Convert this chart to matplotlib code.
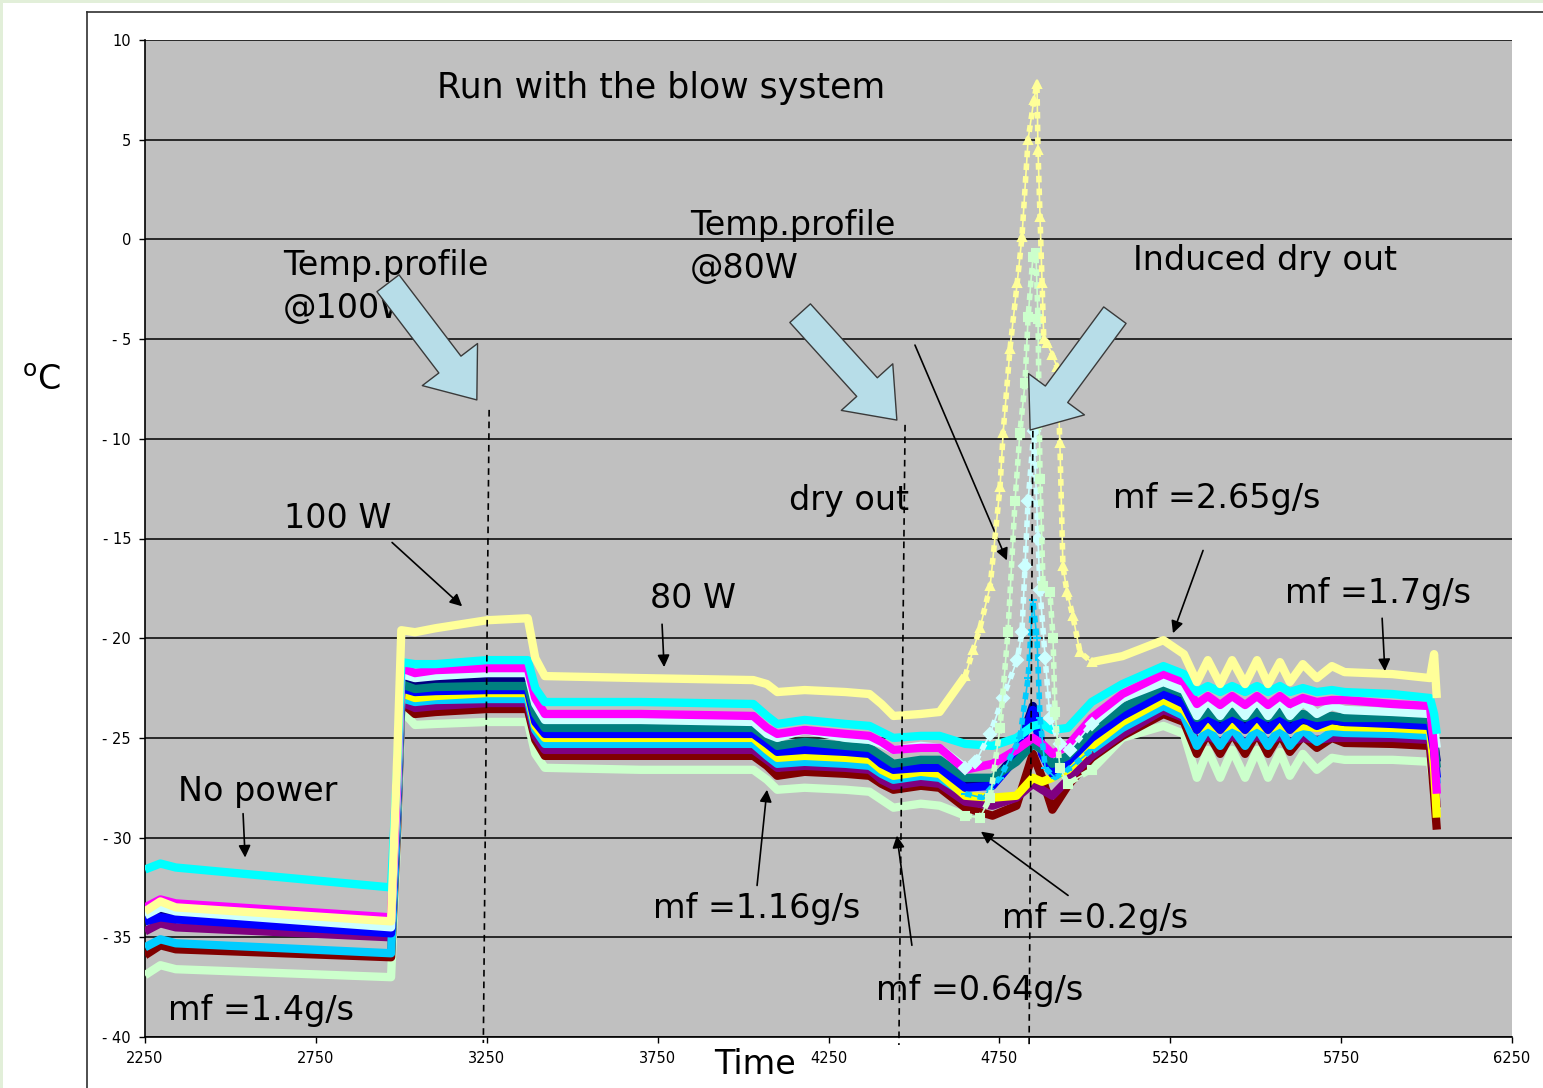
import numpy as np
import matplotlib
matplotlib.use("Agg")
import matplotlib.pyplot as plt
from matplotlib.lines import Line2D
from matplotlib.patches import Rectangle


# shared time base of the plateau traces
t = [2250, 2295, 2340, 2970, 2988, 3000, 3040, 3100, 3250, 3370,
     3392, 3420, 3700, 4030, 4070, 4100, 4180, 4300, 4370, 4405,
     4440, 4520, 4575, 4650, 4730, 4800, 4848, 4875, 4905, 4950,
     5020, 5110, 5230, 5290, 5328, 5360, 5396, 5431, 5469, 5504,
     5536, 5571, 5600, 5638, 5679, 5723, 5760, 5900, 6010, 6022,
     6030]

# temperatures (oC); None = drawn by the spike trace instead
lt_yellow = [-33.7, -33.2, -33.5, -34.2,
             -26.0, -19.6, -19.7, -19.5, -19.1, -19.0,
             -21.0, -21.9, -22.0, -22.1,
             -22.3, -22.7, -22.6, -22.7, -22.8,
             -23.3, -23.9, -23.8, -23.7, -21.9,
             None, None, None, None, None, None, -21.2,
             -20.9, -20.1, -20.8,
             -22.2, -21.1, -22.3, -21.1, -22.3, -21.1, -22.3, -21.2, -22.2, -21.3, -22.0, -21.4,
             -21.7, -21.8, -22.0, -20.8, -23.0]
cyan = [-31.6, -31.3, -31.5, -32.5,
        -26.5, -21.2, -21.3, -21.3, -21.1, -21.1,
        -22.5, -23.2, -23.2, -23.3,
        -23.9, -24.3, -24.1, -24.3, -24.4,
        -24.7, -25.0, -24.9, -24.9, -25.3,
        -25.4, -25.0, -24.4, -24.3, -24.6, -24.5, -23.2,
        -22.3, -21.4, -21.8,
        -22.7, -22.4, -22.7, -22.4, -22.7, -22.4, -22.7, -22.4, -22.7, -22.5, -22.7, -22.6,
        -22.7, -22.8, -23.0, -23.8, -24.8]
magenta = [-33.5, -33.1, -33.3, -34.0,
           -27.0, -21.5, -21.75, -21.6, -21.5, -21.5,
           -23.0, -23.8, -23.8, -23.9,
           -24.5, -24.8, -24.6, -24.8, -24.9,
           -25.2, -25.6, -25.5, -25.5, -26.6,
           -26.3, -25.6, -25.0, -25.3, -25.8, -25.4, -24.0,
           -22.8, -21.8, -22.2,
           -23.3, -22.9, -23.35, -22.9, -23.35, -22.9, -23.35, -22.9, -23.3, -23.0, -23.2, -23.1,
           -23.1, -23.3, -23.4, -25.5, -27.8]
lt_cyan = [-33.9, -33.5, -33.7, -34.5,
           -27.5, -21.8, -22.0, -21.9, -21.75, -21.75,
           -23.3, -24.1, -24.1, -24.2,
           -24.8, -25.0, -24.6, -25.0, -25.1,
           -25.3, -25.6, -25.4, -25.5, -26.5,
           None, None, None, None, None, None, -24.3,
           -23.0, -22.2, -22.6,
           -23.9, -23.1, -23.9, -23.1, -23.9, -23.1, -23.9, -23.1, -23.9, -23.2, -23.8, -23.4,
           -23.6, -23.7, -23.8, -24.5, -25.5]
teal = [-33.8, -33.4, -33.6, -34.3,
        -27.8, -22.3, -22.55, -22.45, -22.4, -22.4,
        -23.8, -24.5, -24.5, -24.5,
        -25.0, -25.4, -25.2, -25.4, -25.5,
        -25.9, -26.3, -26.1, -26.1, -27.0,
        -27.0, -26.2, -25.3, -25.6, -26.3, -25.9, -24.6,
        -23.5, -22.4, -22.8,
        -24.0, -23.7, -24.0, -23.7, -24.0, -23.7, -24.0, -23.7, -24.0, -23.8, -24.0, -23.9,
        -24.0, -24.0, -24.1, -25.2, -26.5]
navy = [-34.1, -33.9, -34.0, -34.7,
        -28.0, -22.0, -22.25, -22.2, -22.15, -22.15,
        -24.0, -24.7, -24.7, -24.75,
        -25.2, -25.6, -25.4, -25.6, -25.7,
        -26.1, -26.5, -26.3, -26.3, -27.3,
        -27.2, -25.8, -23.4, -25.5, -26.6, -26.0, -24.8,
        -23.7, -22.7, -23.1,
        -24.3, -24.0, -24.3, -24.0, -24.3, -24.0, -24.3, -24.0, -24.3, -24.1, -24.2, -24.1,
        -24.2, -24.2, -24.3, -25.2, -26.2]
blue = [-34.2, -34.0, -34.1, -34.8,
        -28.2, -22.5, -22.7, -22.65, -22.6, -22.6,
        -24.2, -24.8, -24.8, -24.8,
        -25.3, -25.7, -25.6, -25.7, -25.8,
        -26.3, -26.6, -26.5, -26.5, -27.5,
        -27.4, -26.0, -23.6, -25.8, -26.8, -26.2, -25.0,
        -23.9, -22.8, -23.3,
        -24.6, -23.9, -24.6, -23.9, -24.6, -23.9, -24.6, -23.9, -24.6, -24.0, -24.4, -24.1,
        -24.2, -24.3, -24.4, -25.6, -27.0]
yellow = [-33.6, -33.2, -33.4, -34.1,
          -28.4, -22.75, -23.0, -22.9, -22.75, -22.75,
          -24.4, -25.0, -25.0, -25.0,
          -25.6, -26.0, -25.9, -26.0, -26.1,
          -26.6, -26.9, -26.7, -26.8, -27.9,
          -28.0, -27.9, -27.0, -27.2, -27.0, -26.6, -25.4,
          -24.2, -23.1, -23.6,
          -24.6, -24.3, -24.6, -24.3, -24.6, -24.3, -24.6, -24.3, -24.6, -24.4, -24.5, -24.4,
          -24.45, -24.5, -24.6, -26.5, -29.0]
sky = [-35.5, -35.1, -35.3, -35.8,
       -29.0, -23.0, -23.2, -23.1, -23.05, -23.05,
       -24.6, -25.3, -25.3, -25.3,
       -25.9, -26.3, -26.2, -26.3, -26.4,
       -26.8, -27.1, -26.9, -27.0, -27.8,
       None, None, None, None, None, None, -25.6,
       -24.5, -23.4, -23.9,
       -25.4, -24.5, -25.4, -24.5, -25.4, -24.5, -25.4, -24.5, -25.4, -24.6, -25.2, -24.7,
       -24.75, -24.8, -24.9, -26.0, -27.3]
purple = [-34.7, -34.3, -34.5, -35.0,
          -28.8, -23.2, -23.5, -23.4, -23.25, -23.25,
          -24.9, -25.6, -25.6, -25.6,
          -26.1, -26.5, -26.4, -26.5, -26.6,
          -27.1, -27.4, -27.2, -27.3, -28.2,
          -28.4, -28.0, -27.3, -27.6, -27.9, -27.1, -25.9,
          -24.8, -23.6, -24.0,
          -25.2, -24.9, -25.2, -24.9, -25.2, -24.9, -25.2, -24.9, -25.2, -25.0, -25.1, -25.0,
          -25.0, -25.0, -25.1, -27.0, -28.5]
maroon = [-35.9, -35.4, -35.6, -36.0,
          -29.5, -23.2, -23.8, -23.7, -23.55, -23.55,
          -25.1, -25.9, -25.9, -25.9,
          -26.4, -26.9, -26.7, -26.8, -26.9,
          -27.3, -27.6, -27.4, -27.5, -28.5,
          -28.9, -28.4, -25.8, -27.0, -28.6, -27.4, -26.0,
          -24.9, -23.8, -24.2,
          -25.8, -24.75, -25.8, -24.75, -25.8, -24.75, -25.8, -24.8, -25.7, -24.9, -25.5, -25.0,
          -25.25, -25.3, -25.4, -27.8, -29.6]
lt_green = [-36.9, -36.4, -36.6, -37.0,
            -30.0, -23.6, -24.35, -24.3, -24.2, -24.2,
            -25.8, -26.5, -26.6, -26.6,
            -27.1, -27.6, -27.5, -27.6, -27.7,
            -28.1, -28.5, -28.3, -28.4, -28.9,
            None, None, None, None, None, None, -26.6,
            -25.0, -24.4, -24.8,
            -27.0, -25.6, -27.0, -25.6, -27.0, -25.6, -27.0, -25.7, -26.9, -25.8, -26.6, -26.0,
            -26.1, -26.1, -26.2, -27.5, -28.6]

# dry-out spikes
t_lty_spike = [4650, 4673, 4693, 4723, 4752, 4761, 4781, 4802, 4816, 4834, 4851, 4860, 4863,
               4869, 4875, 4880, 4890, 4905, 4919, 4927, 4936, 4948, 4965, 4986, 5020]
lty_spike = [-21.9, -20.6, -19.5, -17.4, -12.4, -9.7, -5.5, -2.2, 0.1, 5.0, 7.0, 7.8, 4.5,
             1.1, -2.2, -5.0, -5.2, -5.8, -6.4, -10.2, -16.4, -17.7, -18.9, -20.7, -21.2]
t_ltc_spike = [4650, 4680, 4723, 4760, 4802, 4816, 4825, 4834, 4851, 4863, 4869, 4884, 4898,
               4927, 4957, 5020]
ltc_spike = [-26.5, -26.2, -24.8, -23.0, -21.1, -19.7, -16.4, -13.1, -9.6, -15.0, -17.6, -21.0,
             -24.0, -25.3, -25.6, -24.3]
t_sky_spike = [4650, 4700, 4752, 4810, 4834, 4848, 4860, 4869, 4884, 4913, 4950, 5020]
sky_spike = [-27.8, -28.0, -27.0, -25.0, -22.0, -18.1, -20.0, -24.0, -26.5, -27.0, -26.6, -25.6]
t_ltg_spike = [4650, 4693, 4723, 4752, 4775, 4796, 4810, 4825, 4834, 4848, 4857, 4863, 4869,
               4878, 4898, 4907, 4913, 4927, 4950, 5020]
ltg_spike = [-28.9, -29.0, -28.0, -24.5, -19.7, -13.1, -9.7, -7.2, -3.9, -0.9, -0.7, -4.0, -12.0,
             -17.4, -17.7, -20.0, -23.7, -26.5, -27.3, -26.6]

x_ticks = [2250, 2750, 3250, 3750, 4250, 4750, 5250, 5750, 6250]
y_ticks = [-40, -35, -30, -25, -20, -15, -10, -5, 0, 5, 10]

BG = "#C0C0C0"
BLOCK = "#B7DDE8"
FS = 24


def ylab(v):
    return f"- {abs(v)}" if v < 0 else str(v)


def note(ax, txt, x, y, size=FS):
    ax.text(x, y, txt, fontsize=size, ha="left", va="center", color="black")


def pointer(ax, start, end):
    ax.annotate("", xy=end, xytext=start,
                arrowprops=dict(arrowstyle="-|>", color="black", lw=1.2,
                                mutation_scale=18, shrinkA=0, shrinkB=0))


def block_arrow(ax, tail, tip):
    ax.annotate("", xy=tip, xytext=tail, zorder=6,
                arrowprops=dict(arrowstyle="simple,head_length=1.6,head_width=2.5,tail_width=1.0",
                                fc=BLOCK, ec="#3A3A3A", lw=1, mutation_scale=20,
                                shrinkA=0, shrinkB=0))


fig = plt.figure(figsize=(15.43, 10.88), dpi=100)
ax = fig.add_axes([145 / 1543, 1 - 1037 / 1088, (1512 - 145) / 1543, (1037 - 40) / 1088])
ax.set_facecolor(BG)

# plateau bands, bottom ones first
bands = [(lt_green, "#CCFFCC"), (maroon, "#800000"), (purple, "#800080"),
         (sky, "#00CCFF"), (yellow, "#FFFF00"), (navy, "#000080"), (blue, "#0000FF"),
         (teal, "#008080"), (lt_cyan, "#CCFFFF"), (magenta, "#FF00FF"),
         (cyan, "#00FFFF"), (lt_yellow, "#FFFF99")]
for vals, col in bands:
    ax.plot(t, np.array(vals, dtype=float), color=col, lw=6,
            solid_joinstyle="round", solid_capstyle="butt", zorder=3)

# spikes: thin line, a chain of short dashes standing in for the dense markers
spikes = [(t_sky_spike, sky_spike, "#00CCFF", "_"),
          (t_ltc_spike, ltc_spike, "#CCFFFF", "D"),
          (t_ltg_spike, ltg_spike, "#CCFFCC", "s"),
          (t_lty_spike, lty_spike, "#FFFF99", "^")]
for ts, ys, col, mk in spikes:
    ax.plot(ts, ys, color=col, lw=1.2, zorder=4)
    ax.plot(ts, ys, color=col, lw=4, ls=(0, (1.2, 1.1)), dash_capstyle="butt", zorder=4)
    ax.plot(ts, ys, color=col, lw=0, marker=mk, ms=6, mew=1.5, zorder=4)

ax.set_xlim(2250, 6250)
ax.set_ylim(-40, 10)
ax.set_xticks(x_ticks)
ax.set_yticks(y_ticks)
ax.set_yticklabels([ylab(v) for v in y_ticks])
ax.tick_params(axis="both", labelsize=10.5, direction="out", length=4, width=1, pad=6)
ax.yaxis.grid(True, color="black", lw=1.1)
ax.set_axisbelow(True)
for side in ("top", "right"):
    ax.spines[side].set_visible(False)
for side in ("left", "bottom"):
    ax.spines[side].set_linewidth(1.2)

# dashed markers of the profile instants
for xs, ys in [([3257, 3240], [-8.55, -40.3]),
               ([4474, 4456], [-9.3, -40.4]),
               ([4848, 4837], [-9.6, -40.4])]:
    ax.plot(xs, ys, color="black", lw=1.2, ls=(0, (4, 3)), clip_on=False, zorder=5)

note(ax, "Run with the blow system", 3104, 7.6, 25)
note(ax, "Temp.profile", 2654, -1.3)
note(ax, "@100W", 2654, -3.45)
note(ax, "Temp.profile", 3845, 0.7)
note(ax, "@80W", 3845, -1.45)
note(ax, "Induced dry out", 5141, -1.05)
note(ax, "dry out", 4134, -13.1)
note(ax, "100 W", 2657, -14.0)
note(ax, "80 W", 3728, -18.0)
note(ax, "mf =2.65g/s", 5082, -13.0)
note(ax, "mf =1.7g/s", 5586, -17.75)
note(ax, "No power", 2347, -27.7)
note(ax, "mf =1.4g/s", 2317, -38.65)
note(ax, "mf =1.16g/s", 3736, -33.55)
note(ax, "mf =0.2g/s", 4758, -34.05)
note(ax, "mf =0.64g/s", 4389, -37.65)

block_arrow(ax, (2961, -2.2), (3221, -8.05))
block_arrow(ax, (4167, -3.7), (4450, -9.06))
block_arrow(ax, (5088, -3.8), (4840, -9.56))

pointer(ax, (2537, -28.8), (2543, -31.0))
pointer(ax, (2973, -15.2), (3178, -18.4))
pointer(ax, (3763, -19.3), (3769, -21.45))
pointer(ax, (4041, -32.4), (4070, -27.6))
pointer(ax, (4494, -35.4), (4450, -29.9))
pointer(ax, (4951, -32.9), (4696, -29.7))
pointer(ax, (5346, -15.6), (5258, -19.75))
pointer(ax, (5870, -19.0), (5878, -21.65))
pointer(ax, (4503, -5.3), (4772, -16.1))

fig.text(42 / 1543, 1 - 380 / 1088, r"$^{\mathrm{o}}$C", fontsize=FS, ha="center", va="center")
fig.text(755 / 1543, 1 - 1065 / 1088, "Time", fontsize=FS, ha="center", va="center")

# outer chart frame and the pale page border
fx = 87 / 1543
fy = 1 - 12 / 1088
fig.add_artist(Line2D([fx, fx], [0, fy], color="#303030", lw=1.2))
fig.add_artist(Line2D([fx, 1], [fy, fy], color="#303030", lw=1.2))
fig.add_artist(Rectangle((0, 0), 3 / 1543, 1, color="#E2EFD9", lw=0))
fig.add_artist(Rectangle((0, 1 - 3 / 1088), 1, 3 / 1088, color="#E2EFD9", lw=0))

fig.savefig("out.png", dpi=100, facecolor="white")
